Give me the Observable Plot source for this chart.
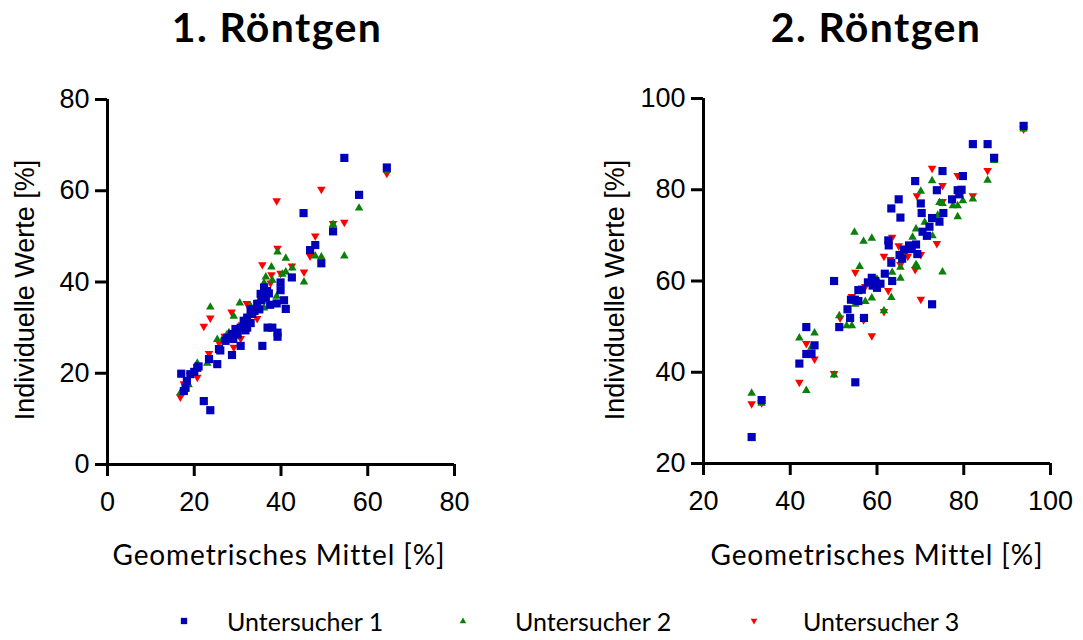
<!DOCTYPE html>
<html>
<head>
<meta charset="utf-8">
<script src="https://cdn.jsdelivr.net/npm/d3@7"></script>
<script src="https://cdn.jsdelivr.net/npm/@observablehq/plot@0.6"></script>
<style>
  html, body { margin: 0; padding: 0; background: #fff; }
  #root { position: relative; width: 1083px; height: 640px; overflow: hidden; background: #fff; }
  .abs { position: absolute; white-space: nowrap; }
  .title { font-family: Lato, "Open Sans", sans-serif; font-weight: 700; font-size: 41px; letter-spacing: 1.4px; line-height: normal; color: #000; transform: translateX(-50%); }
  .xlab { font-family: Lato, "Open Sans", sans-serif; font-size: 28px; letter-spacing: 0.9px; line-height: normal; color: #000; transform: translateX(-50%); }
  .ylab { font-family: "Liberation Sans", Arial, sans-serif; font-size: 27px; line-height: 1; color: #000; transform: translate(-50%, -50%) rotate(-90deg); }
  .leg { font-family: Lato, "Open Sans", sans-serif; font-size: 25px; line-height: normal; color: #000; }
  svg.plot { position: absolute; top: 0; }
</style>
</head>
<body>
<div id="root"></div>
<script>
// ---------- data ----------
const titles = ["1. Röntgen", "2. Röntgen"];
const examiners = ["Untersucher 1", "Untersucher 2", "Untersucher 3"];
const xLabel = "Geometrisches Mittel [%]";
const yLabel = "Individuelle Werte [%]";
const ticks1 = [0, 20, 40, 60, 80];
const ticks2 = [20, 40, 60, 80, 100];

// 1. Röntgen: [geometric mean, individual value]
const r1U1 = [[54.6,67.2],[64.4,65.1],[58.0,59.1],[45.2,55.1],[52.0,51.1],[46.7,47.0],[47.9,48.1],[49.3,44.1],[42.5,41.0],[39.9,39.9],[39.9,38.2],[40.7,36.0],[41.1,34.1],[39.0,35.3],[36.1,38.8],[35.3,37.4],[37.2,37.5],[36.5,36.5],[34.5,35.2],[33.8,33.7],[32.2,32.2],[31.4,31.5],[30.7,30.0],[29.5,29.7],[28.7,28.6],[27.6,27.8],[27.2,27.1],[30.7,26.0],[28.7,24.0],[35.7,26.0],[36.9,30.0],[38.0,30.0],[39.2,28.9],[39.2,28.0],[25.7,25.3],[25.3,22.0],[23.4,23.1],[20.7,21.2],[19.1,19.8],[17.0,19.9],[18.3,18.3],[18.0,16.8],[17.6,16.1],[22.2,13.9],[23.7,11.9],[32.2,30.0],[33.0,31.0],[33.4,33.0],[35.0,34.0],[35.5,36.0],[36.8,38.0],[37.5,35.0],[31.8,29.4],[30.0,28.5],[26.0,25.0],[20.0,20.3],[21.0,21.5],[33.0,34.0],[29.0,27.5]];
const r1U2 = [[64.4,64.6],[58.0,56.3],[54.6,45.8],[52.0,52.7],[47.9,45.8],[49.3,45.6],[45.3,40.1],[39.2,46.7],[41.1,45.3],[42.6,43.2],[41.1,42.3],[40.3,41.8],[37.8,43.4],[36.5,41.2],[36.1,39.9],[30.5,35.5],[29.1,32.6],[33.0,34.8],[23.7,34.6],[25.3,27.5],[23.0,22.3],[20.7,22.3],[18.7,17.6],[16.8,15.8],[36.1,34.4],[39.0,37.0],[34.0,33.5],[31.5,31.0],[27.5,28.5],[20.0,20.5],[38.0,40.5],[35.0,36.0],[32.5,33.0],[28.0,29.0],[26.5,27.5]];
const r1U3 = [[64.4,63.7],[49.3,60.2],[39.0,57.7],[54.6,53.0],[52.0,52.7],[47.9,50.0],[39.2,47.3],[42.5,43.4],[45.3,42.1],[46.7,45.6],[35.7,43.7],[37.8,41.5],[39.9,41.8],[37.6,39.7],[23.7,32.0],[22.2,30.2],[28.6,33.3],[32.1,35.2],[30.7,27.5],[29.1,25.6],[25.7,26.6],[23.4,24.2],[20.7,19.0],[16.8,14.7],[17.6,17.6],[34.5,31.9],[31.0,30.5],[33.5,33.0],[27.0,28.0],[36.5,38.0],[19.0,19.5],[35.0,35.5]];

// 2. Röntgen
const r2U1 = [[93.8,94.0],[82.1,90.0],[85.5,90.0],[87.0,87.0],[75.1,84.1],[68.8,81.9],[79.8,83.0],[73.8,79.9],[65.0,77.9],[63.3,75.9],[65.4,73.9],[70.1,77.0],[70.3,74.9],[77.3,77.9],[78.6,79.9],[79.0,79.0],[79.5,80.0],[75.3,74.9],[72.7,73.8],[74.4,73.0],[72.1,71.9],[70.5,70.8],[71.5,69.9],[69.0,68.0],[67.4,67.8],[66.2,66.9],[65.2,65.7],[65.8,64.9],[69.3,65.9],[62.6,68.9],[62.7,67.8],[63.3,64.0],[63.5,60.0],[61.8,61.6],[60.8,59.4],[58.8,60.7],[57.9,59.7],[59.6,60.0],[56.5,58.1],[55.7,58.0],[54.0,55.9],[54.9,55.9],[55.7,55.6],[53.2,53.8],[53.8,51.9],[57.0,51.9],[51.3,49.9],[50.1,60.0],[72.7,54.9],[55.0,37.8],[43.7,49.9],[45.6,45.9],[43.7,44.0],[44.9,44.0],[42.1,41.9],[33.4,33.9],[31.1,25.8],[68.0,67.0],[59.0,59.0],[60.0,58.5]];
const r2U2 = [[93.8,93.4],[87.0,86.5],[85.5,82.2],[82.1,78.1],[79.8,77.7],[78.6,76.6],[77.5,76.6],[78.6,74.2],[75.1,77.1],[74.4,77.3],[72.7,82.1],[70.1,79.8],[75.1,62.1],[72.8,70.0],[69.0,71.5],[68.2,69.7],[69.0,63.7],[69.3,63.2],[65.4,63.1],[65.4,60.7],[63.5,62.0],[63.3,56.5],[61.6,53.6],[58.8,69.5],[56.9,68.8],[54.8,70.8],[56.0,63.3],[58.8,56.4],[57.3,55.6],[54.2,50.3],[53.0,50.3],[51.3,52.5],[50.1,39.5],[45.6,48.7],[42.1,47.6],[43.7,36.1],[44.9,45.6],[31.1,35.5],[33.4,33.3],[71.0,73.0],[66.0,66.0],[60.0,60.5],[55.0,55.0],[74.0,74.5]];
const r2U3 = [[93.8,93.2],[87.0,87.2],[85.5,84.1],[82.1,78.6],[78.6,83.0],[72.7,84.6],[75.1,80.8],[69.2,78.6],[75.1,77.3],[73.8,68.1],[70.1,65.7],[68.8,62.4],[70.1,55.9],[63.5,69.5],[65.0,67.6],[61.6,65.3],[63.1,64.6],[67.1,65.3],[65.4,63.5],[55.0,61.8],[62.6,57.8],[57.3,58.7],[58.8,47.9],[56.9,51.4],[61.6,53.2],[51.5,51.8],[54.2,56.5],[50.1,39.6],[43.7,46.2],[45.6,42.8],[42.1,37.7],[31.1,33.0],[33.4,33.2],[59.5,59.0],[66.5,66.0],[72.0,72.0]];

const colors = ["#0000bb", "#0a800a", "#ff0000"];

// ---------- symbols ----------
const symSquare = { draw(ctx, size) { const s = Math.sqrt(size) / 2; ctx.moveTo(-s, -s); ctx.lineTo(s, -s); ctx.lineTo(s, s); ctx.lineTo(-s, s); ctx.closePath(); } };
const symUp = { draw(ctx, size) { const w = Math.sqrt(size) * 1.05; const h = w * 0.87; ctx.moveTo(0, -h * 0.6); ctx.lineTo(w / 2, h * 0.4); ctx.lineTo(-w / 2, h * 0.4); ctx.closePath(); } };
const symDown = { draw(ctx, size) { const w = Math.sqrt(size) * 1.05; const h = w * 0.87; ctx.moveTo(0, h * 0.6); ctx.lineTo(w / 2, -h * 0.4); ctx.lineTo(-w / 2, -h * 0.4); ctx.closePath(); } };
const symbols = [symSquare, symUp, symDown];

const root = document.getElementById("root");

function panel(series, domain, ticks, left, width, mL, mR, mT, mB) {
  const marks = [];
  // draw order: examiner 3, 2, 1 (blue on top)
  [2, 1, 0].forEach(k => {
    marks.push(Plot.dot(series[k], { x: d => d[0], y: d => d[1], symbol: symbols[k], r: 4.6, fill: colors[k], stroke: "none" }));
  });
  marks.push(Plot.axisX({ ticks, tickSize: 12, tickPadding: 15, tickFormat: d3.format("d"), fontSize: 27, strokeWidth: 3, label: null }));
  marks.push(Plot.axisY({ ticks, tickSize: 12, tickPadding: 6, tickFormat: d3.format("d"), fontSize: 27, strokeWidth: 3, label: null }));
  marks.push(Plot.ruleX([domain[0]], { stroke: "#000", strokeWidth: 3 }));
  marks.push(Plot.ruleY([domain[0]], { stroke: "#000", strokeWidth: 3 }));
  const svg = Plot.plot({
    width, height: 530,
    marginLeft: mL, marginRight: mR, marginTop: mT, marginBottom: mB,
    x: { domain, ticks },
    y: { domain, ticks },
    style: { fontFamily: "'Liberation Sans', Arial, sans-serif", fontSize: "27px", color: "#000", background: "transparent", overflow: "visible" },
    marks
  });
  svg.classList.add("plot");
  svg.style.left = left + "px";
  root.appendChild(svg);
}

panel([r1U1, r1U2, r1U3], [0, 80], ticks1, 0, 541, 107, 87, 99, 66);
panel([r2U1, r2U2, r2U3], [20, 100], ticks2, 541, 542, 162, 33, 98, 67);

function addText(cls, text, left, top) {
  const d = document.createElement("div");
  d.className = "abs " + cls;
  d.textContent = text;
  d.style.left = left + "px";
  d.style.top = top + "px";
  root.appendChild(d);
  return d;
}
addText("title", titles[0], 277, 2);
addText("title", titles[1], 876, 2);
addText("xlab", xLabel, 279, 537);
addText("xlab", xLabel, 877, 537);
addText("ylab", yLabel, 25, 290);
addText("ylab", yLabel, 615, 290);

// legend
const legX = [184, 463, 754];
const legTextX = [227, 515, 803];
examiners.forEach((name, k) => {
  const ns = "http://www.w3.org/2000/svg";
  const s = document.createElementNS(ns, "svg");
  s.setAttribute("width", 14); s.setAttribute("height", 14);
  s.style.position = "absolute";
  s.style.left = (legX[k] - 7) + "px";
  s.style.top = (621 - 7) + "px";
  const p = document.createElementNS(ns, "path");
  p.setAttribute("d", d3.symbol(symbols[k], 40)());
  p.setAttribute("transform", "translate(7,7)");
  p.setAttribute("fill", colors[k]);
  s.appendChild(p);
  root.appendChild(s);
  addText("leg", name, legTextX[k], 606);
});
</script>
</body>
</html>
